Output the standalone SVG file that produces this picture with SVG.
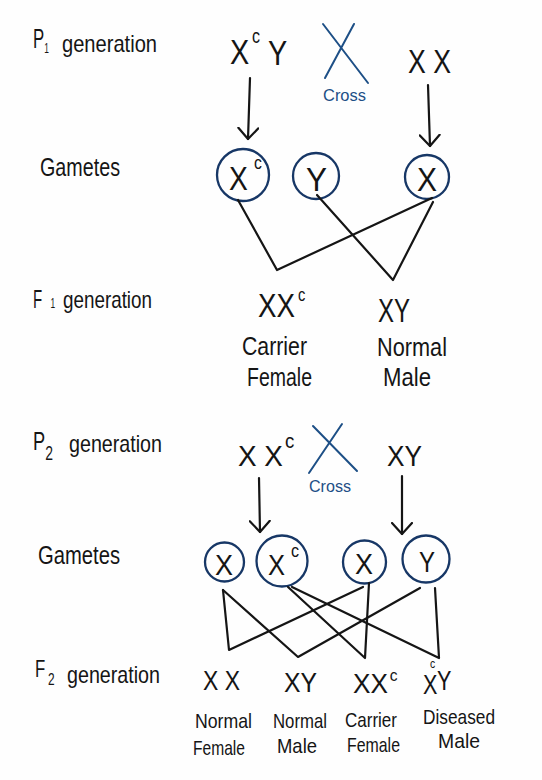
<svg xmlns="http://www.w3.org/2000/svg" width="542" height="780" viewBox="0 0 542 780">
<defs>
<style>
text{font-family:"Liberation Sans","DejaVu Sans",sans-serif;fill:#151515}
.lbl{font-size:24px}
.g{font-size:34px}
.g2{font-size:30px}
.g3{font-size:27px}
.ph{font-size:26px}
.ph2{font-size:21px}
.cross{stroke:#1d4f86;stroke-width:2;fill:none;stroke-linecap:round}
.crosst{font-size:17px;fill:#1d4f86}
.gam{fill:none;stroke:#173766;stroke-width:2.3}
.ln{fill:none;stroke:#151515;stroke-width:2.2;stroke-linecap:round;stroke-linejoin:round}
</style>
<marker id="ah" viewBox="0 0 14 22" refX="12" refY="11" markerWidth="14" markerHeight="22" markerUnits="userSpaceOnUse" orient="auto">
<path d="M1,1 L12,11 L1,21" fill="none" stroke="#151515" stroke-width="2.2" stroke-linecap="round" stroke-linejoin="round"/>
</marker>
</defs>
<rect width="542" height="780" fill="#fefefe"/>

<g id="labels">
<g id="p1-label">
<text transform="translate(33,48) scale(0.6,1)" font-size="28">P<tspan font-size="14" dy="5">1</tspan></text>
<text class="lbl" x="62" y="52" textLength="95" lengthAdjust="spacingAndGlyphs">generation</text>
</g>
<text id="gametes1-label" class="ph" x="40" y="176" textLength="80" lengthAdjust="spacingAndGlyphs">Gametes</text>
<g id="f1-label">
<text transform="translate(33,308) scale(0.6,1)" font-size="25">F<tspan font-size="14" dx="14">1</tspan></text>
<text class="lbl" x="63" y="308" textLength="89" lengthAdjust="spacingAndGlyphs">generation</text>
</g>
<g id="p2-label">
<text transform="translate(33,450) scale(0.7,1)" font-size="26">P<tspan font-size="20" dx="0" dy="10">2</tspan></text>
<text class="lbl" x="69" y="452" textLength="93" lengthAdjust="spacingAndGlyphs">generation</text>
</g>
<text id="gametes2-label" class="ph" x="38" y="564" textLength="82" lengthAdjust="spacingAndGlyphs">Gametes</text>
<g id="f2-label">
<text transform="translate(35,677) scale(0.7,1)" font-size="24">F<tspan font-size="17" dx="4" dy="8">2</tspan></text>
<text class="lbl" x="67" y="683" textLength="93" lengthAdjust="spacingAndGlyphs">generation</text>
</g>
</g>

<g id="p1-male">
<text transform="translate(230,64) scale(0.8,1)" font-size="36">X<tspan font-size="20" dx="3.5" dy="-21">c</tspan><tspan dx="10" dy="22">Y</tspan></text>
</g>
<g id="cross1">
<path class="cross" d="M323,24 L368,83 M354,24 L325,78"/>
<text class="crosst" x="323" y="101" textLength="43" lengthAdjust="spacingAndGlyphs">Cross</text>
</g>
<g id="p1-female">
<text class="g" x="408" y="73" textLength="43" lengthAdjust="spacingAndGlyphs">X X</text>
</g>

<g id="gamete-xc1">
<circle class="gam" cx="243" cy="175" r="26"/>
<text transform="translate(229,190) scale(0.83,1)" font-size="34">X<tspan font-size="19" dx="7.3" dy="-21">c</tspan></text>
</g>
<g id="gamete-y1">
<circle class="gam" cx="316" cy="176" r="23"/>
<text class="g" x="306" y="191" textLength="21" lengthAdjust="spacingAndGlyphs">Y</text>
</g>
<g id="gamete-x1">
<circle class="gam" cx="427" cy="177" r="22"/>
<text class="g" x="417" y="191" textLength="20" lengthAdjust="spacingAndGlyphs">X</text>
</g>

<g id="f1-female">
<text transform="translate(258,317) scale(0.815,1)" font-size="34">XX<tspan font-size="18" dx="3.6" dy="-16">c</tspan></text>
<text class="ph" x="242" y="355" textLength="65" lengthAdjust="spacingAndGlyphs">Carrier</text>
<text class="ph" x="247" y="386" textLength="65" lengthAdjust="spacingAndGlyphs">Female</text>
</g>
<g id="f1-male">
<text class="g" x="378" y="322" textLength="32" lengthAdjust="spacingAndGlyphs">XY</text>
<text class="ph" x="377" y="356" textLength="70" lengthAdjust="spacingAndGlyphs">Normal</text>
<text class="ph" x="383" y="386" textLength="48" lengthAdjust="spacingAndGlyphs">Male</text>
</g>

<g id="p2-female">
<text transform="translate(238,466) scale(0.93,1)" font-size="30">X X<tspan font-size="20" dx="2.2" dy="-18">c</tspan></text>
</g>
<g id="cross2">
<path class="cross" d="M342,424 L309,473 M313,426 L357,471"/>
<text class="crosst" x="309" y="492" textLength="42" lengthAdjust="spacingAndGlyphs">Cross</text>
</g>
<g id="p2-male">
<text class="g2" x="387" y="466" textLength="35" lengthAdjust="spacingAndGlyphs">XY</text>
</g>

<g id="gamete-x2a">
<circle class="gam" cx="224.5" cy="562" r="19.5"/>
<text class="g2" x="215" y="575" textLength="18" lengthAdjust="spacingAndGlyphs">X</text>
</g>
<g id="gamete-xc2">
<circle class="gam" cx="282" cy="561" r="25.5"/>
<text transform="translate(268,575) scale(0.85,1)" font-size="30">X<tspan font-size="19" dx="7" dy="-18">c</tspan></text>
</g>
<g id="gamete-x2b">
<circle class="gam" cx="364.5" cy="562" r="21.5"/>
<text class="g2" x="355" y="574" textLength="18" lengthAdjust="spacingAndGlyphs">X</text>
</g>
<g id="gamete-y2">
<circle class="gam" cx="426" cy="559" r="23.5"/>
<text class="g2" x="419" y="572" textLength="16" lengthAdjust="spacingAndGlyphs">Y</text>
</g>

<g id="f2-normal-female">
<text class="g3" x="203" y="690" textLength="37" lengthAdjust="spacingAndGlyphs">X X</text>
<text class="ph2" x="195" y="728" textLength="57" lengthAdjust="spacingAndGlyphs">Normal</text>
<text class="ph2" x="193" y="755" textLength="52" lengthAdjust="spacingAndGlyphs">Female</text>
</g>
<g id="f2-normal-male">
<text class="g3" x="284" y="692" textLength="33" lengthAdjust="spacingAndGlyphs">XY</text>
<text class="ph2" x="273" y="728" textLength="54" lengthAdjust="spacingAndGlyphs">Normal</text>
<text class="ph2" x="277" y="753" textLength="40" lengthAdjust="spacingAndGlyphs">Male</text>
</g>
<g id="f2-carrier-female">
<text transform="translate(353,693) scale(0.97,1)" font-size="27">XX<tspan font-size="16" dx="2" dy="-12">c</tspan></text>
<text class="ph2" x="345" y="727" textLength="52" lengthAdjust="spacingAndGlyphs">Carrier</text>
<text class="ph2" x="347" y="752" textLength="53" lengthAdjust="spacingAndGlyphs">Female</text>
</g>
<g id="f2-diseased-male">
<text transform="translate(423,694) scale(0.8,1)" font-size="27">X<tspan font-size="13" dx="-9.25" dy="-26">c</tspan><tspan dx="2.25" dy="22">Y</tspan></text>
<text class="ph2" x="423" y="724" textLength="72" lengthAdjust="spacingAndGlyphs">Diseased</text>
<text class="ph2" x="438" y="748" textLength="42" lengthAdjust="spacingAndGlyphs">Male</text>
</g>

<g id="connectors">
<path class="ln" d="M250,78 L248,139" marker-end="url(#ah)"/>
<path class="ln" d="M428,85 L430,146" marker-end="url(#ah)"/>
<path class="ln" d="M259,478 L260,532" marker-end="url(#ah)"/>
<path class="ln" d="M402,476 L402,534" marker-end="url(#ah)"/>
<polyline class="ln" points="238,200 277,270 432,198"/>
<polyline class="ln" points="317,195 393,280 433,202"/>
<polyline class="ln" points="223,590 229,650 363,587"/>
<polyline class="ln" points="223,590 298,657 420,588"/>
<polyline class="ln" points="288,587 365,658 369,583"/>
<polyline class="ln" points="292,587 439,658 435,588"/>
</g>
</svg>
